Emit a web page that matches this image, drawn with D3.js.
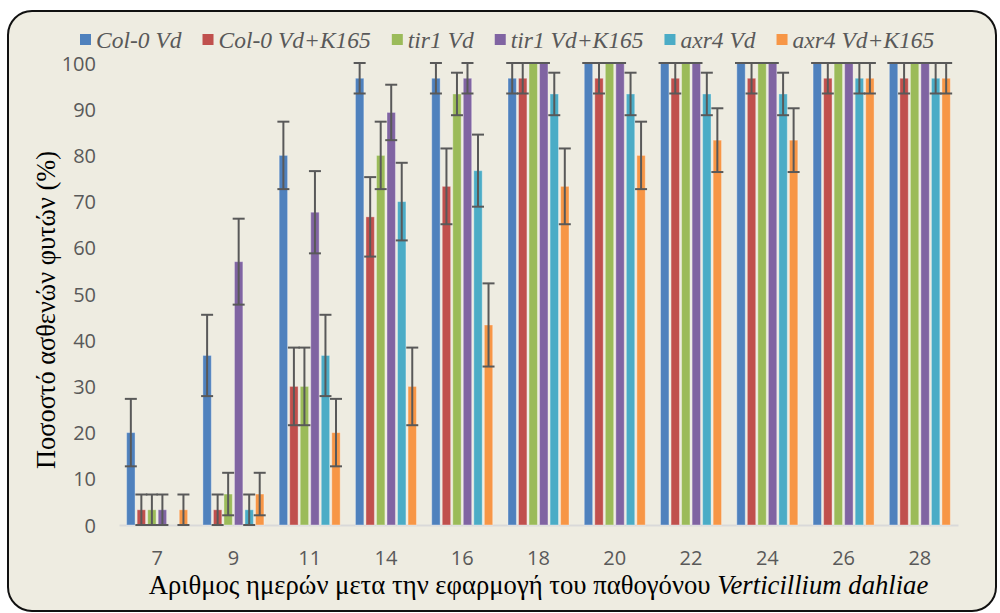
<!DOCTYPE html>
<html><head><meta charset="utf-8">
<script src="https://cdn.jsdelivr.net/npm/d3@7"></script>
<style>html,body{margin:0;padding:0;background:#fff;}svg{display:block;}
.serif{font-family:"Liberation Serif","Times New Roman",Times,"Nimbus Roman","DejaVu Serif",serif;}</style>
</head><body>
<svg id="chart" width="1000" height="613"></svg>
<script>
const categories = ["7","9","11","14","16","18","20","22","24","26","28"];
const seriesNames = ["Col-0 Vd","Col-0 Vd+K165","tir1 Vd","tir1 Vd+K165","axr4 Vd","axr4 Vd+K165"];
const colVd      = [20, 36.7, 80, 96.7, 96.7, 96.7, 100, 100, 100, 100, 100];
const colVdErr   = [7.3, 8.8, 7.3, 3.3, 3.3, 3.3, 0, 0, 0, 0, 0];
const colK       = [3.3, 3.3, 30, 66.7, 73.3, 96.7, 96.7, 96.7, 96.7, 96.7, 96.7];
const colKErr    = [3.3, 3.3, 8.4, 8.6, 8.2, 3.3, 3.3, 3.3, 3.3, 3.3, 3.3];
const tirVd      = [3.3, 6.7, 30, 80, 93.3, 100, 100, 100, 100, 100, 100];
const tirVdErr   = [3.3, 4.6, 8.4, 7.3, 4.6, 0, 0, 0, 0, 0, 0];
const tirK       = [3.3, 57, 67.7, 89.3, 96.7, 100, 100, 100, 100, 100, 100];
const tirKErr    = [3.3, 9.3, 8.9, 6.0, 3.3, 0, 0, 0, 0, 0, 0];
const axrVd      = [0, 3.3, 36.7, 70, 76.7, 93.3, 93.3, 93.3, 93.3, 96.7, 96.7];
const axrVdErr   = [0, 3.3, 8.8, 8.4, 7.8, 4.6, 4.6, 4.6, 4.6, 3.3, 3.3];
const axrK       = [3.3, 6.7, 20, 30, 43.3, 73.3, 80, 83.3, 83.3, 96.7, 96.7];
const axrKErr    = [3.3, 4.6, 7.3, 8.4, 9.0, 8.2, 7.3, 6.9, 6.9, 3.3, 3.3];
const yTicks = [0,10,20,30,40,50,60,70,80,90,100];
const colors = ["#4F81BD","#C0504D","#9BBB59","#8064A2","#4BACC6","#F79646"];
const yTitle = "Ποσοστό ασθενών φυτών (%)";
const xTitlePlain = "Αριθμος ημερών μετα την εφαρμογή του παθογόνου ";
const xTitleItalic = "Verticillium dahliae";

const values = [colVd, colK, tirVd, tirK, axrVd, axrK];
const errors = [colVdErr, colKErr, tirVdErr, tirKErr, axrVdErr, axrKErr];

const svg = d3.select("#chart");
svg.append("rect").attr("x",8).attr("y",11).attr("width",988).attr("height",600)
  .attr("rx",24).attr("ry",24).attr("fill","#EEECE1").attr("stroke","#111").attr("stroke-width",2);

const pLeft = 119, pRight = 958, pTop = 63, pBottom = 525;
const x0 = d3.scaleBand().domain(categories).range([pLeft,pRight]).paddingInner(0.2).paddingOuter(0.1);
const x1 = d3.scaleBand().domain(d3.range(seriesNames.length)).range([0,x0.bandwidth()]).paddingInner(0.2);
const y = d3.scaleLinear().domain([0,100]).range([pBottom,pTop]);

const yAxis = d3.axisLeft(y).tickValues(yTicks).tickSize(0).tickPadding(0);
const yg = svg.append("g").attr("transform",`translate(96,0)`).call(yAxis);
yg.select(".domain").remove();
yg.selectAll("text").attr("fill","#595959").attr("font-family","Open Sans").attr("font-size",20).attr("dy","0.35em");

const xAxis = d3.axisBottom(x0).tickSize(0).tickPadding(0);
const xg = svg.append("g").attr("transform",`translate(0,${pBottom})`).call(xAxis);
xg.select(".domain").attr("stroke","#D9D9D9").attr("stroke-width",2);
xg.selectAll("text").attr("fill","#595959").attr("font-family","Open Sans").attr("font-size",20).attr("dy","0").attr("y",40);

const groups = svg.append("g").selectAll("g").data(categories).join("g")
  .attr("transform",d=>`translate(${x0(d)},0)`);
groups.each(function(cat,ci){
  const g = d3.select(this);
  values.forEach((arr,si)=>{
    const v = arr[ci];
    if (v > 0) {
      g.append("rect").attr("x",x1(si)).attr("width",x1.bandwidth())
        .attr("y",y(v)).attr("height",y(0)-y(v)).attr("fill",colors[si])
        .attr("stroke","#fff").attr("stroke-opacity",0.35).attr("stroke-width",1);
    }
  });
});
groups.each(function(cat,ci){
  const g = d3.select(this);
  values.forEach((arr,si)=>{
    const v = arr[ci], e = errors[si][ci];
    if (v <= 0) return;
    const cx = x1(si) + x1.bandwidth()/2;
    const hi = Math.min(100, v+e), lo = Math.max(0, v-e);
    const col = "#595959";
    g.append("line").attr("x1",cx).attr("x2",cx).attr("y1",y(hi)).attr("y2",y(lo)).attr("stroke",col).attr("stroke-width",2);
    g.append("line").attr("x1",cx-6).attr("x2",cx+6).attr("y1",y(hi)).attr("y2",y(hi)).attr("stroke",col).attr("stroke-width",2);
    g.append("line").attr("x1",cx-6).attr("x2",cx+6).attr("y1",y(lo)).attr("y2",y(lo)).attr("stroke",col).attr("stroke-width",2);
  });
});

function fitFont(sel, base, target){
  sel.attr("font-size",base);
  const w = sel.node().getComputedTextLength();
  sel.attr("font-size", base*target/w);
}
const yt = svg.append("text").attr("class","serif").attr("transform",`translate(55,310) rotate(-90)`).attr("text-anchor","middle")
  .attr("fill","#000").text(yTitle);
fitFont(yt, 24, 318);
const xt = svg.append("text").attr("class","serif").attr("x",(pLeft+pRight)/2).attr("y",594).attr("text-anchor","middle")
  .attr("fill","#000");
xt.append("tspan").text(xTitlePlain);
xt.append("tspan").attr("font-style","italic").text(xTitleItalic);
fitFont(xt, 24, 780);

const lg = svg.append("g");
let lx = 80;
seriesNames.forEach((name,i)=>{
  lg.append("rect").attr("x",lx).attr("y",34).attr("width",11).attr("height",11).attr("fill",colors[i]);
  const t = lg.append("text").attr("class","serif").attr("x",lx+16).attr("y",48)
    .attr("font-style","italic").attr("font-size",23.5).attr("fill","#595959").text(name);
  const w = t.node().getComputedTextLength();
  lx += 16 + w + 21;
});
</script>
</body></html>
